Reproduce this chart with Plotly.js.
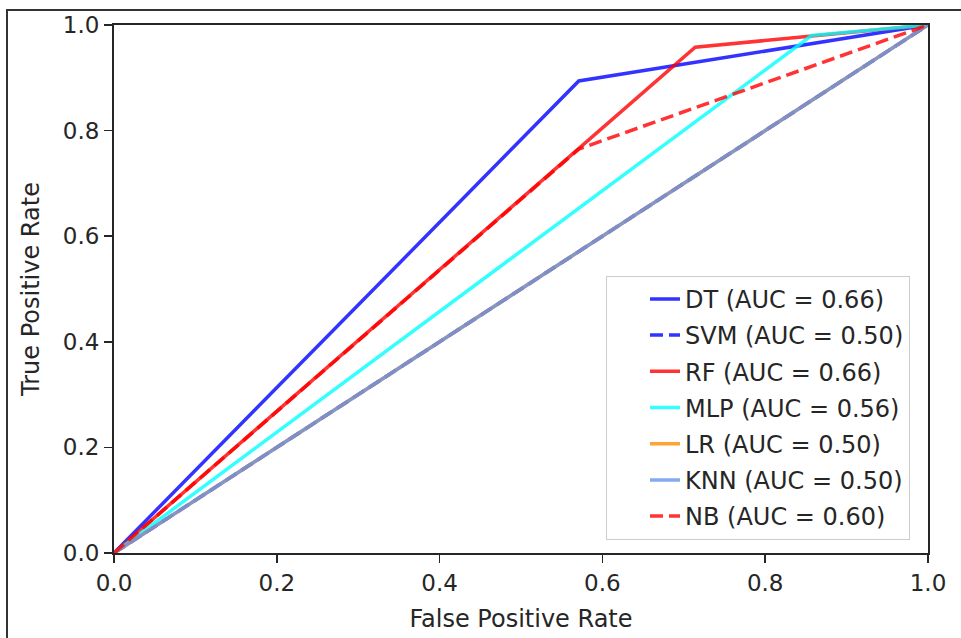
<!DOCTYPE html>
<html>
<head>
<meta charset="utf-8">
<script src="https://cdn.plot.ly/plotly-3.0.1.min.js"></script>
<style>
html,body{margin:0;padding:0;background:#fff;overflow:hidden;}
#wrap{position:relative;width:961px;height:638px;overflow:hidden;}
#chart{width:961px;height:638px;}
#frame{position:absolute;left:6px;top:9px;width:1200px;height:1200px;border:2px solid #333;pointer-events:none;box-sizing:border-box;}
</style>
</head>
<body>
<div id="wrap"><div id="chart"></div><div id="frame"></div></div>
<script>
const names = ["DT (AUC = 0.66)", "SVM (AUC = 0.50)", "RF (AUC = 0.66)", "MLP (AUC = 0.56)", "LR (AUC = 0.50)", "KNN (AUC = 0.50)", "NB (AUC = 0.60)"];
const fprDT = [0, 0.571, 1];
const tprDT = [0, 0.894, 1];
const fprSVM = [0, 1];
const tprSVM = [0, 1];
const fprRF = [0, 0.714, 1];
const tprRF = [0, 0.958, 1];
const fprMLP = [0, 0.857, 1];
const tprMLP = [0, 0.98, 1];
const fprLR = [0, 1];
const tprLR = [0, 1];
const fprKNN = [0, 1];
const tprKNN = [0, 1];
const fprNB = [0, 0.571, 1];
const tprNB = [0, 0.765, 1];
const tickVals = [0, 0.2, 0.4, 0.6, 0.8, 1.0];
const tickText = ["0.0", "0.2", "0.4", "0.6", "0.8", "1.0"];

const colors = ["#0000ff", "#0000ff", "#ff0000", "#00ffff", "#ff8c00", "#6495ed", "#ff0000"];
const dashes = ["solid", "13px,6px", "solid", "solid", "solid", "solid", "13px,6px"];
const xs = [fprDT, fprSVM, fprRF, fprMLP, fprLR, fprKNN, fprNB];
const ys = [tprDT, tprSVM, tprRF, tprMLP, tprLR, tprKNN, tprNB];

const traces = names.map((n, i) => ({
  x: xs[i], y: ys[i], name: n, type: "scatter", mode: "lines",
  legendgroup: "g" + i,
  opacity: 0.8,
  line: {color: colors[i], width: 3.5, dash: dashes[i]}
}));

const tickFont = {family: "DejaVu Sans", size: 23, color: "#262626"};
const titleFont = {family: "DejaVu Sans", size: 24, color: "#262626"};
const layout = {
  width: 961, height: 638,
  margin: {l: 114, r: 33, t: 25, b: 85},
  paper_bgcolor: "#fff", plot_bgcolor: "#fff",
  font: {family: "DejaVu Sans", color: "#262626"},
  xaxis: {
    range: [0, 1], tickvals: tickVals, ticktext: tickText,
    ticks: "outside", ticklen: 8, tickwidth: 1.5, tickcolor: "#262626",
    showline: true, linecolor: "#262626", linewidth: 2, mirror: true,
    showgrid: false, zeroline: false, tickfont: tickFont,
    title: {text: "False Positive Rate", font: titleFont, standoff: 16}
  },
  yaxis: {
    range: [0, 1], tickvals: tickVals, ticktext: tickText,
    ticks: "outside", ticklen: 8, tickwidth: 1.5, tickcolor: "#262626",
    showline: true, linecolor: "#262626", linewidth: 2, mirror: true,
    showgrid: false, zeroline: false, tickfont: tickFont,
    title: {text: "True Positive Rate", font: titleFont, standoff: 16}
  },
  legend: {
    x: 0.6044, y: 0.025, xanchor: "left", yanchor: "bottom",
    indentation: 38,
    bgcolor: "rgba(255,255,255,0.8)", bordercolor: "#cccccc", borderwidth: 1,
    font: {family: "DejaVu Sans", size: 24, color: "#262626"},
    tracegroupgap: 2
  },
  showlegend: true
};

Plotly.newPlot("chart", traces, layout, {displayModeBar: false, staticPlot: true});
</script>
</body>
</html>
